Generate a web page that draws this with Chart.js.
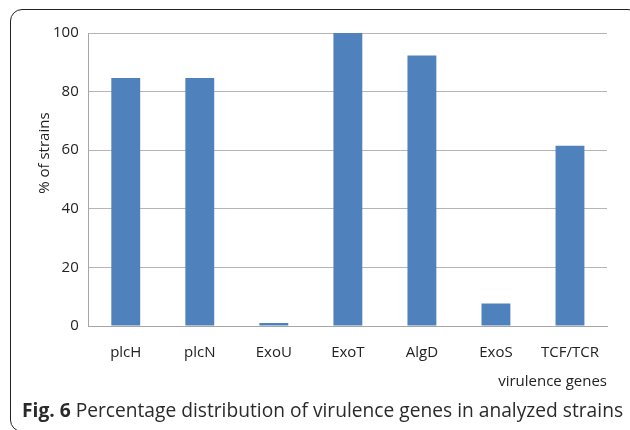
<!DOCTYPE html>
<html>
<head>
<meta charset="utf-8">
<script src="https://cdn.jsdelivr.net/npm/chart.js@4/dist/chart.umd.min.js"></script>
<style>
  body { margin: 0; background: #fff; }
  #wrap { position: relative; width: 630px; height: 430px; overflow: hidden; }
  #frame {
    position: absolute; left: 10px; top: 9px; width: 630px; height: 423px;
    border: 1.5px solid #222; border-radius: 12px; box-sizing: border-box;
  }
  #chart { position: absolute; left: 0; top: 0; }
  #caption {
    position: absolute; left: 22px; top: 396px; font-family: "Open Sans", sans-serif;
    font-size: 19.2px; color: #2a2a2a; white-space: nowrap;
  }
  #caption b { font-weight: 700; }
</style>
</head>
<body>
<div id="wrap">
  <div id="frame"></div>
  <canvas id="chart" width="630" height="430"></canvas>
  <div id="caption"><b>Fig. 6</b> Percentage distribution of virulence genes in analyzed strains</div>
</div>
<script>
// Data
const genes = ["plcH", "plcN", "ExoU", "ExoT", "AlgD", "ExoS", "TCF/TCR"];
const percentStrains = [84.6, 84.6, 1, 100, 92.3, 7.7, 61.5];
const yTicks = [0, 20, 40, 60, 80, 100];

const tickFont = { family: "'Open Sans', sans-serif", size: 15 };

// y title sits a bit above the middle of the plot, like in the figure
const yTitle = {
  id: "yTitle",
  afterDraw(chart) {
    const { ctx, chartArea } = chart;
    ctx.save();
    ctx.translate(45, chartArea.top + (chartArea.bottom - chartArea.top) * 0.41);
    ctx.rotate(-Math.PI / 2);
    ctx.font = "15px 'Open Sans', sans-serif";
    ctx.fillStyle = "#222";
    ctx.textAlign = "center";
    ctx.textBaseline = "middle";
    ctx.fillText("% of strains", 0, 0);
    ctx.restore();
  }
};

new Chart(document.getElementById("chart").getContext("2d"), {
  type: "bar",
  data: {
    labels: genes,
    datasets: [{
      label: "% of strains",
      data: percentStrains,
      backgroundColor: "#4F81BD",
      borderWidth: 0,
      categoryPercentage: 1,
      barPercentage: 0.39
    }]
  },
  options: {
    responsive: false,
    animation: false,
    layout: { padding: { left: 43, right: 23, top: 33, bottom: 35 } },
    plugins: { legend: { display: false }, tooltip: { enabled: false } },
    scales: {
      x: {
        grid: { display: false },
        border: { color: "#a6a6a6" },
        ticks: { color: "#222", font: tickFont, padding: 10 },
        title: {
          display: true, text: "virulence genes", align: "end",
          color: "#222", font: tickFont, padding: { top: 1 }
        }
      },
      y: {
        min: 0, max: 100,
        afterBuildTicks: axis => { axis.ticks = yTicks.map(v => ({ value: v })); },
        grid: { color: "#b5b5b5", drawTicks: false },
        border: { color: "#a6a6a6" },
        ticks: { color: "#222", font: tickFont, padding: 10 }
      }
    }
  },
  plugins: [yTitle]
});
</script>
</body>
</html>
